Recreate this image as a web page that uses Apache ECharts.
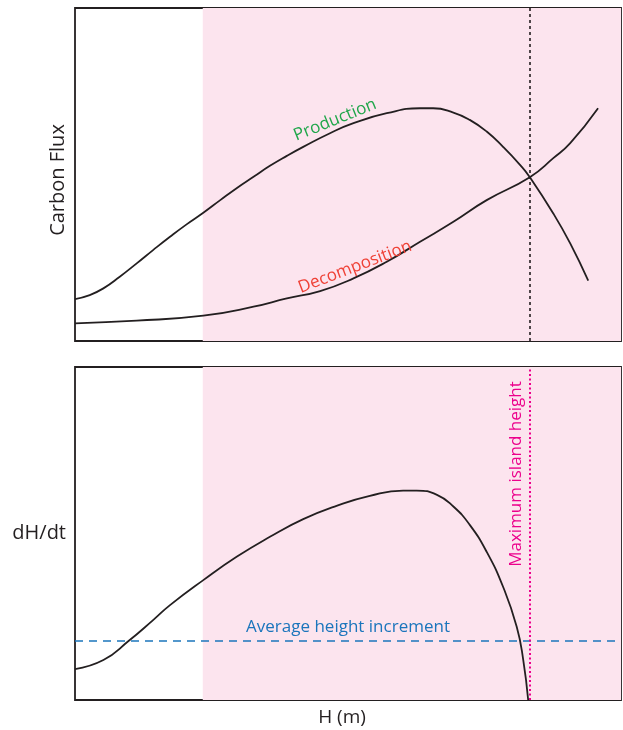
<!DOCTYPE html>
<html>
<head>
<meta charset="utf-8">
<script src="https://cdn.jsdelivr.net/npm/echarts@6/dist/echarts.min.js"></script>
<style>
  html, body { margin: 0; padding: 0; background: #fff; }
  #chart { width: 623px; height: 730px; }
</style>
</head>
<body>
<div id="chart"></div>
<script>
// values, x in % of H range, y in % of panel height
const production = [
  [0, 12.6], [2.7, 13.8], [5.2, 15.8], [8.2, 19.3], [11.3, 23.3], [14.3, 27.3],
  [17.4, 31.3], [20.5, 35.1], [23.5, 38.5], [26.6, 42.3], [29.6, 45.9], [32.7, 49.3],
  [35.7, 52.6], [38.8, 55.6], [41.8, 58.3], [46.7, 62.4], [51.0, 65.4], [57.1, 68.4],
  [63.2, 69.9], [65.6, 69.9], [69.3, 68.6], [72.3, 66.4], [75.4, 62.9], [78.4, 58.3],
  [81.5, 52.9], [83.3, 49.2], [87.6, 38.3], [90.7, 29.3], [94.0, 18.1]
];
const decomposition = [
  [0, 5.3], [11.3, 6.1], [23.5, 7.6], [32.7, 10.3], [38.8, 12.8], [44.9, 15.0],
  [51.0, 18.8], [57.1, 23.8], [63.2, 29.8], [69.3, 35.8], [75.4, 42.3], [83.3, 49.2],
  [87.6, 54.9], [90.7, 59.4], [95.8, 69.9]
];
const growthRate = [
  [0, 9.3], [5.2, 12.0], [9.8, 17.7], [14.3, 24.0], [17.4, 28.5], [23.5, 36.0],
  [29.6, 43.0], [35.7, 49.0], [41.8, 54.3], [47.9, 58.3], [54.0, 61.3], [60.1, 62.9],
  [62.6, 62.9], [66.3, 61.6], [69.3, 58.1], [72.3, 52.6], [75.4, 44.5], [78.4, 34.0],
  [80.9, 22.0], [82.1, 12.0], [83.0, 0]
];
const shadeStart = 23.4;   // where the pink band begins
const maxHeight = 83.3;    // maximum island height
const avgIncrement = 17.7; // average height increment level

const chart = echarts.init(document.getElementById('chart'));
const ink = '#231f20';
const font = 'Open Sans';

const hidden = { axisLine: { show: false }, axisTick: { show: false }, axisLabel: { show: false }, splitLine: { show: false } };

const option = {
  animation: false,
  grid: [
    { left: 75, top: 8, width: 546, height: 333, show: true, borderColor: ink, borderWidth: 1.8, backgroundColor: 'transparent' },
    { left: 75, top: 367, width: 546, height: 333, show: true, borderColor: ink, borderWidth: 1.8, backgroundColor: 'transparent' }
  ],
  xAxis: [
    Object.assign({ gridIndex: 0, type: 'value', min: 0, max: 100 }, hidden),
    Object.assign({ gridIndex: 1, type: 'value', min: 0, max: 100 }, hidden)
  ],
  yAxis: [
    Object.assign({ gridIndex: 0, type: 'value', min: 0, max: 100 }, hidden),
    Object.assign({ gridIndex: 1, type: 'value', min: 0, max: 100,
      name: 'dH/dt', nameLocation: 'middle', nameGap: 9, nameRotate: 0,
      nameTextStyle: { color: ink, fontSize: 20, fontFamily: font, align: 'right' } }, hidden)
  ],
  series: [
    {
      type: 'line', xAxisIndex: 0, yAxisIndex: 0, data: production, smooth: 0.5, symbol: 'none',
      lineStyle: { color: ink, width: 1.8 }, z: 3,
      markArea: { silent: true, itemStyle: { color: '#fce4ee' }, data: [[{ xAxis: shadeStart, yAxis: 0 }, { xAxis: 100, yAxis: 100 }]] },
      markLine: { silent: true, symbol: 'none', label: { show: false },
        lineStyle: { color: ink, type: [3, 3], width: 1.6 }, data: [{ xAxis: maxHeight }] }
    },
    {
      type: 'line', xAxisIndex: 0, yAxisIndex: 0, data: decomposition, smooth: 0.5, symbol: 'none',
      lineStyle: { color: ink, width: 1.8 }, z: 3
    },
    {
      type: 'line', xAxisIndex: 1, yAxisIndex: 1, data: growthRate, smooth: 0.5, symbol: 'none',
      lineStyle: { color: ink, width: 1.8 }, z: 3,
      markArea: { silent: true, itemStyle: { color: '#fce4ee' }, data: [[{ xAxis: shadeStart, yAxis: 0 }, { xAxis: 100, yAxis: 100 }]] },
      markLine: { silent: true, symbol: 'none',
        data: [
          { yAxis: avgIncrement, lineStyle: { color: '#1b75bc', type: [8, 6], width: 1.6 }, label: { show: false } },
          { xAxis: maxHeight, lineStyle: { color: '#ec008c', type: [2, 2.5], width: 2 }, label: { show: false } }
        ] }
    }
  ],
  graphic: { elements: [
    { type: 'text', z: 100, x: 58, y: 180, rotation: Math.PI / 2, style: { text: 'Carbon Flux', fill: ink, fontSize: 20, fontFamily: font, align: 'center', verticalAlign: 'middle' } },
    { type: 'text', z: 100, x: 335, y: 120, rotation: 22 * Math.PI / 180, style: { text: 'Production', fill: '#1fa64a', fontSize: 17, fontFamily: font, align: 'center', verticalAlign: 'middle' } },
    { type: 'text', z: 100, x: 355, y: 267, rotation: 21 * Math.PI / 180, style: { text: 'Decomposition', fill: '#ef4136', fontSize: 17, fontFamily: font, align: 'center', verticalAlign: 'middle' } },
    { type: 'text', z: 100, x: 348, y: 627, style: { text: 'Average height increment', fill: '#1b75bc', fontSize: 17, fontFamily: font, align: 'center', verticalAlign: 'middle' } },
    { type: 'text', z: 100, x: 516, y: 474, rotation: Math.PI / 2, style: { text: 'Maximum island height', fill: '#ec008c', fontSize: 17, fontFamily: font, align: 'center', verticalAlign: 'middle' } },
    { type: 'text', z: 100, x: 342, y: 718, style: { text: 'H (m)', fill: ink, fontSize: 19, fontFamily: font, align: 'center', verticalAlign: 'middle' } }
  ] }
};

chart.setOption(option);
</script>
</body>
</html>
